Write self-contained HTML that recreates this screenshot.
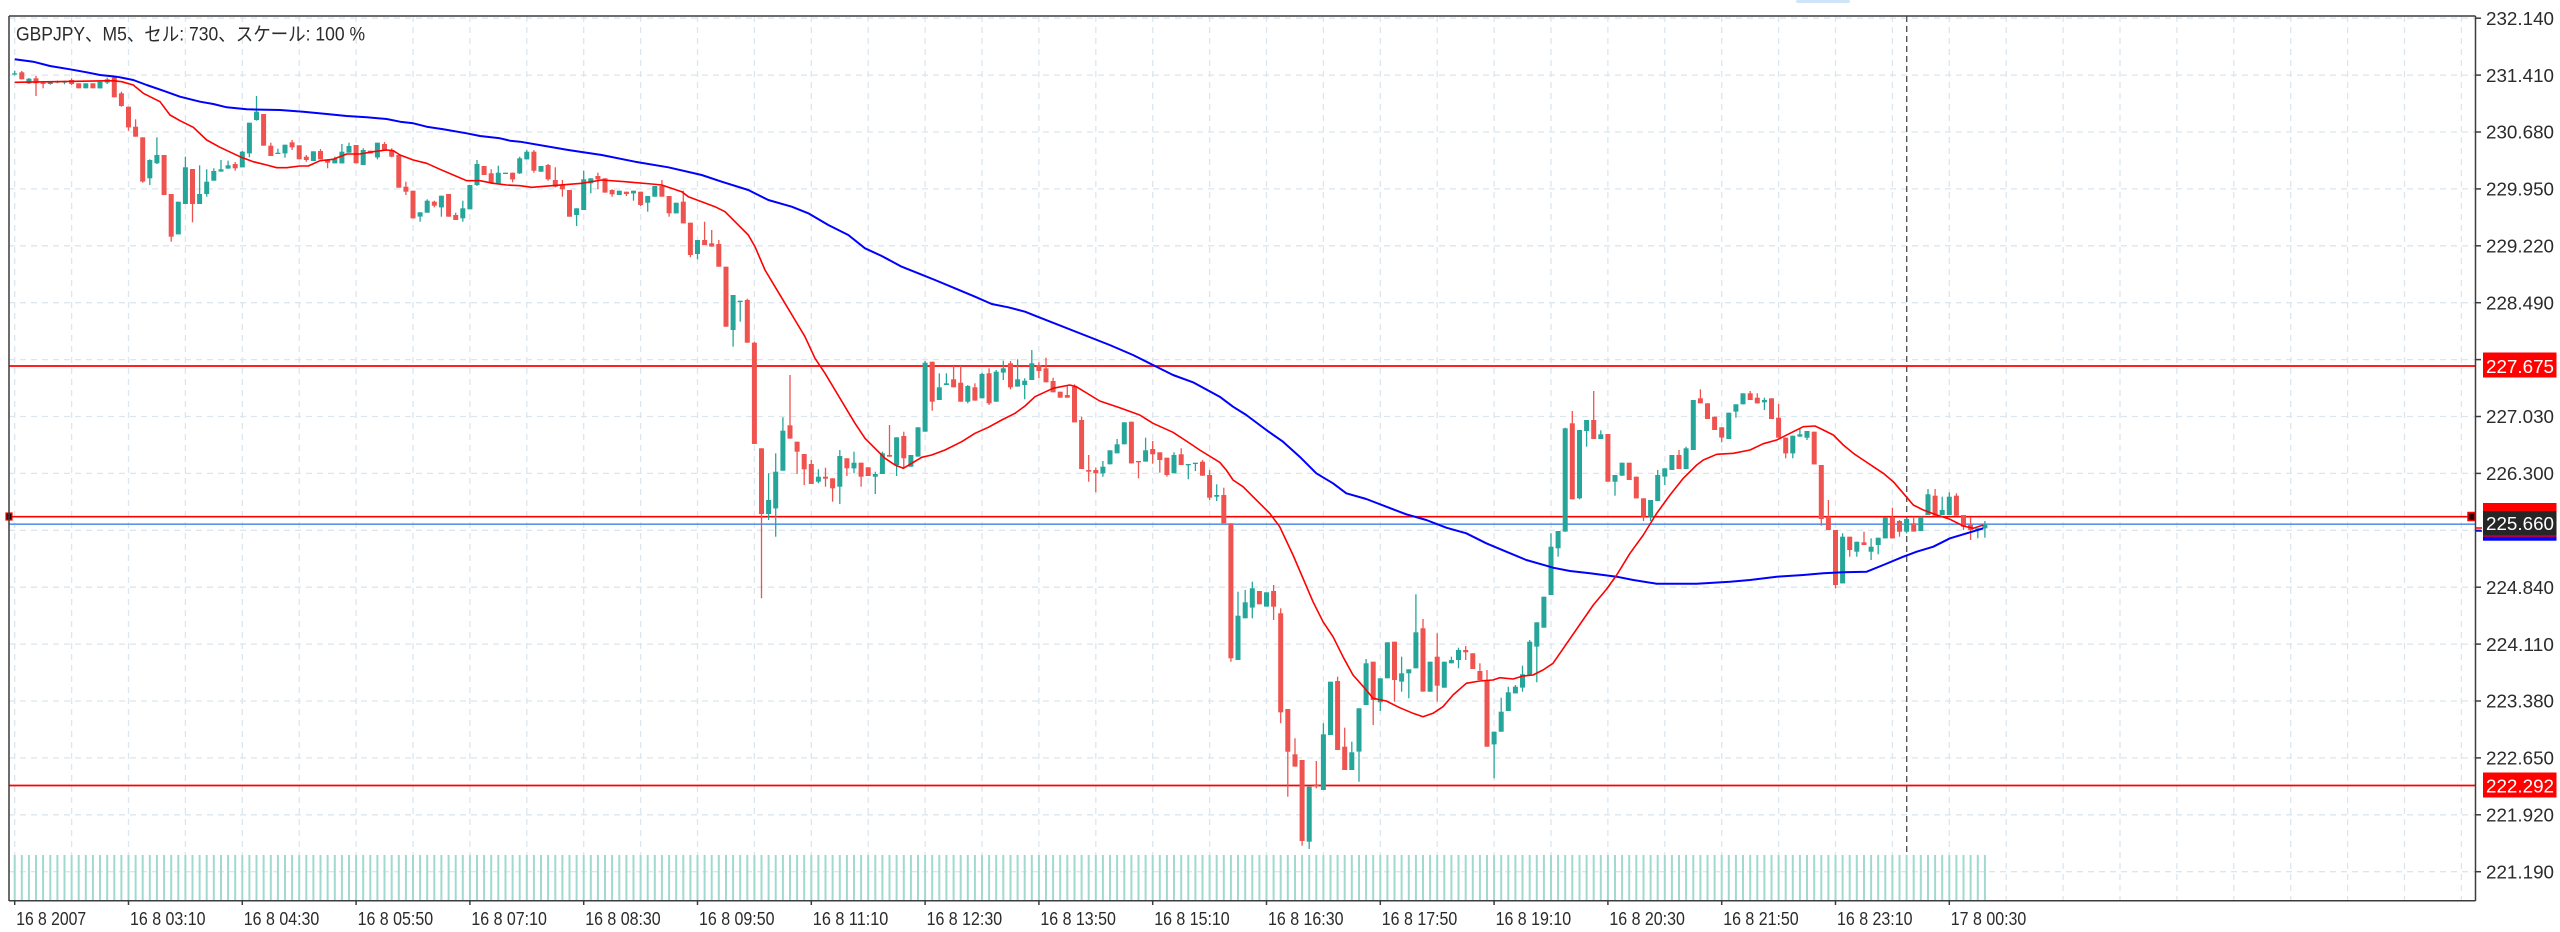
<!DOCTYPE html>
<html><head><meta charset="utf-8"><style>
html,body{margin:0;padding:0;background:#fff;width:2560px;height:932px;overflow:hidden}
svg{display:block}
text{font-family:"Liberation Sans","Noto Sans CJK JP",sans-serif}
</style></head><body>
<svg id="c" width="2560" height="932" viewBox="0 0 2560 932" xmlns="http://www.w3.org/2000/svg">
<rect x="0" y="0" width="2560" height="932" fill="#fff"/>
<rect x="1796" y="0" width="54" height="3" rx="1.5" fill="#cfe5f7"/>
<g id="grid"></g>
<line x1="1906.7" y1="16" x2="1906.7" y2="900" stroke="#555" stroke-width="1.4" stroke-dasharray="6,4"/>
<g id="vol"></g>
<g id="hl">
<line x1="9" y1="366" x2="2475" y2="366" stroke="#ff0000" stroke-width="1.7"/>
<line x1="9" y1="785.5" x2="2475" y2="785.5" stroke="#ff0000" stroke-width="1.7"/>
<line x1="9" y1="516.7" x2="2468" y2="516.7" stroke="#ff0000" stroke-width="1.6"/>
<line x1="9" y1="524.2" x2="2475" y2="524.2" stroke="#5b95ec" stroke-width="1.6"/>
</g>
<g id="candles"></g>
<g id="ma"></g>
<rect x="2468" y="512.5" width="7" height="8" fill="#2a0000" stroke="#ff0000" stroke-width="1.5"/>
<rect x="6" y="513" width="6" height="7" fill="#2a0000" stroke="#ff0000" stroke-width="1.2"/>
<g fill="none" stroke="#3c3c3c" stroke-width="1.5">
<line x1="9" y1="16" x2="2475.5" y2="16"/>
<line x1="9" y1="16" x2="9" y2="901"/>
<line x1="2475.5" y1="16" x2="2475.5" y2="901"/>
<line x1="9" y1="900.7" x2="2475.5" y2="900.7"/>
</g>
<g id="axes"></g>
<text x="16" y="40.5" font-size="19" fill="#2b2b2b" textLength="349" lengthAdjust="spacingAndGlyphs">GBPJPY、M5、セル: 730、スケール: 100 %</text>
<g id="labels">
<rect x="2483" y="352.5" width="73.5" height="25" fill="#ff0000"/>
<text x="2486" y="373" font-size="18.7" fill="#fff" textLength="68" lengthAdjust="spacingAndGlyphs">227.675</text>
<rect x="2483" y="772.5" width="73.5" height="25" fill="#ff0000"/>
<text x="2486" y="792.5" font-size="18.7" fill="#fff" textLength="68" lengthAdjust="spacingAndGlyphs">222.292</text>
<rect x="2483" y="503" width="73.5" height="34" fill="#ff0000"/>
<rect x="2483" y="511" width="73.5" height="24.5" fill="#262626"/>
<rect x="2483" y="536.7" width="73.5" height="4" fill="#0000ff"/>
<text x="2486" y="530" font-size="18.7" fill="#fff" textLength="68" lengthAdjust="spacingAndGlyphs">225.660</text>
<line x1="2476" y1="528" x2="2482" y2="528" stroke="#ff0000" stroke-width="1.5"/>
<line x1="2476" y1="531" x2="2482" y2="531" stroke="#0000ff" stroke-width="1.5"/>
</g>
</svg>
<script>
(function(){
var NS="http://www.w3.org/2000/svg";
var S=7.1125,X0=14.7;
var A=[[104,100,92,106],[97,118,93,118],[130,116,114,132],[115,130,108,168],[128,130,125,145],[132,126,124,134],[128,124,122,130],[126,124,122,133],[120,132,115,135],[130,145],[145,130],[130,145],[145,125],[128,118,113,132],[112,172,110,172],[160,198,155,200],[200,262,200,272],[260,290,238,290],[292,425,292,428],[415,360,358,435],[370,345,292,372],[345,465],[462,590,462,605],[583,485],[492,382,350,492],[387,492,387,547],[492,462,376,492],[462,425,388,470],[422,393,385,422],[395,388,360,395],[386,376,362,386],[372,385,366,392],[382,335,333,382],[340,248,248,352],[240,215,168,242],[222,317],[317,348,308,348],[341,338,326,341],[340,314,314,353],[307,322,300,330],[316,358],[350,360,345,365],[363,334],[333,358,327,358],[360,368,360,385],[370,356,350,370],[370,335,312,370],[338,318,308,338],[315,370],[375,330,325,375],[332,340],[352,308,308,358],[312,332,306,332],[332,350,325,352],[345,443],[440,455,425,465],[452,535],[530,517,517,545],[518,482,478,518],[485,497,482,502],[502,467,467,530],[462,530],[525,540,518,540],[535,505,482,545],[508,435,435,508],[435,372,360,438],[378,405],[400,430,388,432],[430,398,377,430],[402,398,398,402],[398,418,398,427]];
var B=[[70,25,20,72],[28,5,0,28],[5,62,0,68],[65,48],[45,88,42,92],[90,110,52,112],[105,118,90,140],[120,200],[195,175,175,228],[180,88,62,180],[100,85,85,130],[78,88,68,118],[85,128],[120,133,118,140],[135,122],[125,132,125,138],[130,122,122,152],[125,165,125,168],[158,138,138,185],[140,108,108,140],[108,140,90,140],[138,190,138,200],[190,158],[155,220,122,220],[218,315,218,322],[312,270,270,328],[270,285,215,285],[280,290,240,290],[282,350,270,350],[350,530],[540,435,435,590],[456,452,452,515],[450,578,446,578],[578,882,575,882],[895,1092,895,1345],[1092,1050,970,1110],[1075,965,910,1160],[962,842,802,962],[826,866,675,866],[875,905,875,972],[912,958,912,1005],[942,1002,930,1002],[995,980,958,1000],[980,986,953,1010],[985,1015,985,1055],[1010,918,900,1062],[925,955,925,978],[955,938,905,970],[938,980,938,1010],[952,978],[980,972,965,1032],[972,910,905,972],[915,920,825,920],[945,862,862,978],[858,925,845,955],[950,915],[920,832],[845,638,633,845],[635,755,635,782],[750,712,670,750],[705,700,670,705],[688,712,648,712],[698,755,648,755],[755,708,705,760],[712,752,700,752],[745,672,668,745],[670,760,655,765],[755,665,660,755],[668,655,632,690],[640,712,633,718],[710,688,628,710],[705,692,685,748],[690,640,600,690]];
var C=[[60,78,52,100],[70,112,38,112],[108,142,98,142],[140,158],[150,158,120,158],[125,232,118,232],[225,372,215,372],[375,380,330,410],[375,385,368,442],[385,365,348,395],[358,316],[325,298,282,325],[298,232],[230,355],[348,352,348,400],[350,316,278,350],[312,328,288,356],[322,345,322,383],[338,390,338,395],[385,330,322,385],[328,360,310,360],[360,357,357,403],[356,353,353,378],[350,392,345,392],[390,458,375,465],[455,450,418,468],[450,535,428,535],[535,940,535,950],[945,812,740,945],[820,772,735,820],[788,730,710,820],[738,778],[785,742],[738,785,720,825],[805,1102,790,1135],[1092,1220,1092,1355],[1228,1265,1180,1265],[1245,1488,1245,1502],[1490,1325,1325,1512],[1318,1325,1248,1330],[1335,1168,1135,1335],[1170,1010],[1008,1215,995,1215],[1205,1275,1148,1275],[1275,1222,1190,1275],[1220,1090,1090,1310],[1080,955,942,1080],[950,1065,950,1140],[1072,1000,1000,1098],[1000,892],[890,1005,890,1070],[1010,985,935,1040],[985,973,973,1060],[970,862,748,970],[850,1040,822,1040],[1040,950],[935,1022,865,1070],[1028,950],[955,945,935,955],[945,915,908,970],[915,922,903,945],[925,972],[978,1005,955,1005],[1005,1205,975,1205],[1198,1160,1160,1300],[1160,1100,1058,1160],[1098,1042,1025,1098],[1045,1025,1020,1045],[1028,988,962,1040],[990,890,885,990],[905,832,832,1012],[848,755],[750,605,565,750]];
var D=[[550,498,498,575],[500,190,188,500],[175,403,138,403],[400,195,195,403],[198,165,165,245],[165,222,78,222],[222,208,196,222],[207,350],[350,330,330,392],[332,293],[293,345],[335,400],[400,455,400,468],[455,405,405,468],[408,330,315,408],[335,310,310,360],[315,270],[270,312,255,312],[312,250,245,312],[255,105],[100,115,73,115],[115,162],[155,195],[187,218,187,232],[222,143],[140,118,118,158],[118,85],[85,105,78,105],[98,115,85,115],[112,105,98,135],[100,162],[158,218,117,218],[218,265,218,280],[265,212,212,280],[215,208,190,215],[218,198,198,225],[200,298],[300,462,300,482],[455,495,405,495],[495,660,495,670],[655,515,505,655],[515,555,515,575],[560,530,530,575],[532,540,500,540],[560,545,520,585],[540,518,518,568],[520,458],[458,520,428,520],[468,500,465,515],[500,462,460,505],[475,500,455,500],[498,455],[450,388,372,450],[392,452,372,452],[450,435,395,450],[450,395,382,450],[392,452,385,452],[450,485,450,495],[480,495,458,525],[495,490,490,520],[490,478,468,518]];
var segs=[[40,A],[150,B],[345,C],[365,D]];
var cs="",vs="",idx=0;
for(var s=0;s<segs.length;s++){var off=segs[s][0],arr=segs[s][1];
 for(var j=0;j<arr.length;j++){var c=arr[j];
  var o=off+c[0]/3,cl=off+c[1]/3;
  var h=c.length>2?off+c[2]/3:Math.min(o,cl), l=c.length>3?off+c[3]/3:Math.max(o,cl);
  h=Math.min(h,o,cl); l=Math.max(l,o,cl);
  var cx=X0+S*idx;
  var col=(cl<=o)?"#26a69a":"#ef5350";
  var top=Math.min(o,cl),ht=Math.max(Math.abs(o-cl),1.3);
  cs+='<line x1="'+cx.toFixed(1)+'" y1="'+h.toFixed(1)+'" x2="'+cx.toFixed(1)+'" y2="'+l.toFixed(1)+'" stroke="'+col+'" stroke-width="1.3"/>';
  cs+='<rect x="'+(cx-2.5).toFixed(1)+'" y="'+top.toFixed(1)+'" width="5" height="'+ht.toFixed(1)+'" fill="'+col+'"/>';
  vs+='<rect x="'+(cx-1).toFixed(1)+'" y="855" width="2" height="45.5" fill="#a1d9d1"/>';
  idx++;
 }}
document.getElementById("candles").innerHTML=cs;
document.getElementById("vol").innerHTML=vs;
var red=[[14.7,82.3],[113.3,80.7],[121.7,81.7],[133.3,85],[143.3,93.3],[160,101.7],[170,115],[180,120.7],[193.3,127.3],[206.7,140],[220,147.3],[240,156.7],[253.3,161.7],[266.7,165],[276.7,167.7],[286.7,167.7],[300,166],[308.3,166],[320,160.7],[333.3,159.3],[346.7,154],[360,154],[373.3,151.7],[386.7,150],[393.3,150.7],[400,155],[413.3,160],[426.7,163.3],[440,169.3],[453.3,175],[466.7,180.7],[480,180.7],[493.3,183.3],[506.7,185],[520,185.7],[531.7,187.3],[581.7,183.3],[601.7,180],[625,181.7],[651.7,184],[661.7,185],[681.7,191.7],[688.3,196.7],[701.7,201.7],[715,206.7],[725,211.7],[735,221.7],[748.3,235],[755,246.7],[765,270],[775,286.7],[785,303.3],[795,320],[805,336.7],[815,358.3],[825,373.3],[835,390],[845,406.7],[855,423.3],[865,438.3],[875,448.3],[885,458.3],[895,465],[903.3,468.3],[911.7,463.3],[921.7,457.3],[931.7,455],[945,450],[961.7,441.7],[975,433.3],[988.3,427.3],[1001.7,420],[1015,413.3],[1025,406],[1035,396.7],[1053,388.3],[1069.7,385],[1076.3,386.7],[1099.7,401],[1119.7,407.7],[1139.7,415],[1153,423.3],[1173,432.3],[1186.3,441],[1199.7,450],[1219.7,462.3],[1226.3,470],[1233,480],[1243,486.7],[1253,496.7],[1269.7,513.3],[1279.7,526.7],[1293,555],[1303,578.3],[1313,601.7],[1323,621.7],[1333,636.7],[1343,656.7],[1353,675],[1366.3,690],[1373,698.3],[1386.3,701],[1399.7,707.7],[1413,713.3],[1423,716.7],[1433,713.3],[1443,706.7],[1453,695],[1466.3,683.3],[1479.7,681],[1493,680],[1499.7,677.7],[1513,679],[1523,676],[1533,675],[1543,670],[1553,663.3],[1593.3,605],[1606.7,589],[1616.7,575],[1630,553.3],[1643.3,535],[1656.7,513.3],[1670,495],[1683.3,478.3],[1696.7,465],[1703.3,460],[1716.7,454.3],[1733.3,453.3],[1750,450],[1763.3,443.7],[1776.7,440],[1790,433.3],[1803.3,426.7],[1815,426],[1823.3,430],[1833.3,435],[1843.3,445],[1853.3,453.3],[1863.3,460],[1873.3,466.7],[1883.3,473.3],[1893.3,481.7],[1903.3,493.3],[1913.3,505],[1923.3,510],[1936.7,515],[1950,519.3],[1963.3,526],[1973.3,528.3],[1983.3,525]];
var blue=[[14.7,59.3],[33.3,61.7],[50,66],[70,69.3],[86.7,72.3],[100,75],[116.7,76.7],[133.3,80],[146.7,85],[163.3,90.7],[180,96.7],[200,101.7],[213.3,104],[226.7,107.3],[246.7,109.3],[280,110],[303.3,111.7],[326.7,114],[346.7,116],[366.7,117.3],[386.7,119],[400,121.7],[413.3,123.3],[426.7,126.7],[443.3,129.3],[466.7,133.3],[480,136],[500,138.3],[510,140.7],[520,141.7],[568.3,150],[601.7,155],[635,161.7],[668.3,167.3],[701.7,175],[721.7,181.7],[748.3,190],[768.3,200],[791.7,206.7],[808.3,213.3],[828.3,225],[848.3,235],[865,248.3],[881.7,256],[901.7,266.7],[918.3,273.3],[935,280],[955,288.3],[975,296.7],[991.7,304],[1008.3,307.3],[1025,311.7],[1035,315.7],[1109.7,345],[1133,355],[1153,365],[1173,375],[1193,382.3],[1219.7,396.7],[1233,406.7],[1246.3,415],[1266.3,430],[1283,441.7],[1299.7,456.7],[1316.3,473.3],[1333,483.3],[1346.3,493.3],[1366.3,499],[1386.3,506.7],[1406.3,514.3],[1426.3,520],[1446.3,527.7],[1466.3,533.3],[1486.3,543.3],[1506.3,551.7],[1526.3,560],[1546.3,565.7],[1553,567.7],[1570,571],[1590,573.3],[1616.7,576.7],[1633.3,580],[1656.7,583.7],[1696.7,583.7],[1730,581.7],[1750,580],[1776.7,576.7],[1803.3,575],[1823.3,573.3],[1843.3,572.3],[1866.7,571.7],[1883.3,565],[1903.3,556.7],[1916.7,551.7],[1933.3,546.7],[1950,538.3],[1966.7,533.3],[1983.3,528.3]];
function pl(a){return a.map(function(p){return p[0]+","+p[1]}).join(" ")}
document.getElementById("ma").innerHTML='<polyline points="'+pl(blue)+'" fill="none" stroke="#0000ff" stroke-width="2" stroke-linejoin="round"/><polyline points="'+pl(red)+'" fill="none" stroke="#ff0000" stroke-width="1.6" stroke-linejoin="round"/>';
var g="";
for(var k=0;k<=15;k++){var y=871.7-56.9*k;g+='<line x1="9" y1="'+y.toFixed(1)+'" x2="2475" y2="'+y.toFixed(1)+'" stroke="#dbe6ee" stroke-width="1.3" stroke-dasharray="6,5"/>';}
for(var k=0;k<=43;k++){var x=14.7+56.9*k;g+='<line x1="'+x.toFixed(1)+'" y1="16" x2="'+x.toFixed(1)+'" y2="900" stroke="#dbe6ee" stroke-width="1.3" stroke-dasharray="6,5"/>';}
document.getElementById("grid").innerHTML=g;
var ax="";
for(var k=0;k<=15;k++){var y=871.7-56.9*k;var p=(221.19+0.73*k).toFixed(3);
 ax+='<line x1="2475" y1="'+y.toFixed(1)+'" x2="2481" y2="'+y.toFixed(1)+'" stroke="#3c3c3c" stroke-width="1.5"/>';
 ax+='<text x="2486" y="'+(y+6.7).toFixed(1)+'" font-size="18.7" fill="#2b2b2b" textLength="68" lengthAdjust="spacingAndGlyphs">'+p+'</text>';}
var tl=["16 8 2007","16 8 03:10","16 8 04:30","16 8 05:50","16 8 07:10","16 8 08:30","16 8 09:50","16 8 11:10","16 8 12:30","16 8 13:50","16 8 15:10","16 8 16:30","16 8 17:50","16 8 19:10","16 8 20:30","16 8 21:50","16 8 23:10","17 8 00:30"];
for(var k=0;k<tl.length;k++){var x=14.7+113.8*k;
 ax+='<line x1="'+x.toFixed(1)+'" y1="900" x2="'+x.toFixed(1)+'" y2="905" stroke="#3c3c3c" stroke-width="1.5"/>';
 ax+='<text x="'+(x+1.5).toFixed(1)+'" y="925" font-size="18" fill="#2b2b2b" textLength="'+(k==0?70:75.5)+'" lengthAdjust="spacingAndGlyphs">'+tl[k]+'</text>';}
document.getElementById("axes").innerHTML=ax;
})();
</script>
</body></html>
